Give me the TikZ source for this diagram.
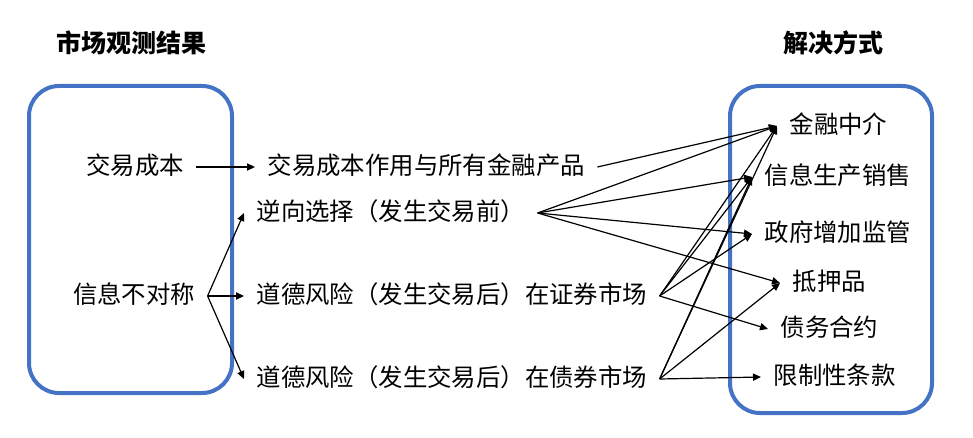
\documentclass[tikz,border=0pt]{standalone}
\usepackage{fontspec}
\setmainfont{Noto Sans CJK SC}
\usetikzlibrary{arrows.meta}
\definecolor{boxblue}{HTML}{4472C4}

\begin{document}
\begin{tikzpicture}[x=0.5pt,y=-0.5pt,line width=0.6pt,
      every node/.style={font=\fontsize{12.2}{14}\selectfont,inner xsep=6pt,inner ysep=3pt,text height=0.75em,text depth=0pt},
      >={Triangle[length=4pt,width=3.6pt]}]
      \useasboundingbox (0,0) rectangle (973,438);
      \draw [boxblue,line width=2pt,rounded corners=15pt](29,86) rectangle (232,393);
      \draw [boxblue,line width=2pt,rounded corners=15pt](730,86) rectangle (932,413);
      \node (t1)[font=\fontsize{12.5}{14}\selectfont\bfseries] at (131,45){市场观测结果};
      \node (t2)[font=\fontsize{12.5}{14}\selectfont\bfseries] at (833,45){解决方式};
      \node (cost) at (135,167){交易成本};
      \node (asym) at (134,296){信息不对称};
      \node (all)[anchor=west] at (255,167){交易成本作用与所有金融产品};
      \node (adv)[anchor=west] at (244,213){逆向选择（发生交易前）};
      \node (mh1)[anchor=west] at (244,296){道德风险（发生交易后）在证券市场};
      \node (mh2)[anchor=west] at (244,379){道德风险（发生交易后）在债券市场};
      \node (fi)[anchor=west] at (777,126){金融中介};
      \node (info)[anchor=west] at (752,177){信息生产销售};
      \node (gov)[anchor=west] at (752,234){政府增加监管};
      \node (coll)[anchor=west] at (780,283){抵押品};
      \node (debt)[anchor=west] at (768,329){债务合约};
      \node (restr)[anchor=west] at (761,377){限制性条款};
      \draw [->](cost)--(all);
      \draw [->](asym.east)--(adv.west);
      \draw [->](asym.east)--(mh1.west);
      \draw [->](asym.east)--(mh2.west);
      \draw [->](all.east)--(fi.west);
      \draw [->](adv.east)--(fi.west);
      \draw [->](adv.east)--(info.west);
      \draw [->](adv.east)--(gov.west);
      \draw [->](adv.east)--(coll.west);
      \draw [->](mh1.east)--(fi.west);
      \draw [->](mh1.east)--(info.west);
      \draw [->](mh1.east)--(gov.west);
      \draw [->](mh1.east)--(debt.west);
      \draw [->](mh2.east)--(fi.west);
      \draw [->](mh2.east)--(info.west);
      \draw [->](mh2.east)--(coll.west);
      \draw [->](mh2.east)--(restr.west);
    \end{tikzpicture}
\end{document}
